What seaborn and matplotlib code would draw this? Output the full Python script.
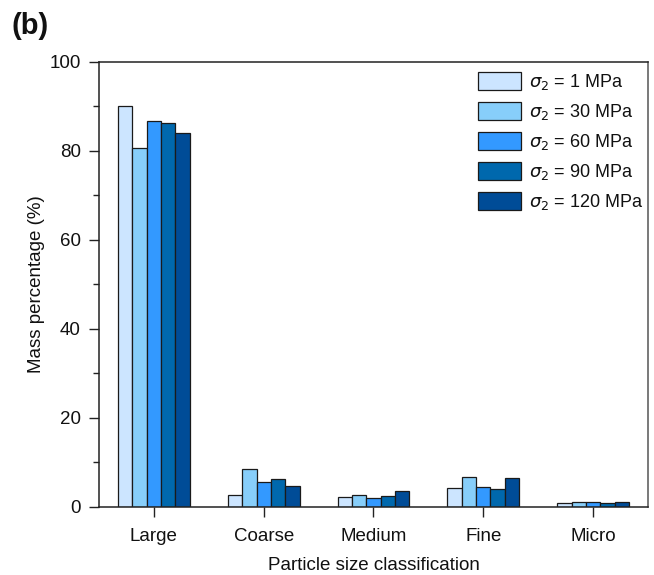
import matplotlib
matplotlib.use("Agg")
import matplotlib.pyplot as plt
from matplotlib.ticker import AutoMinorLocator, MultipleLocator
import seaborn as sns
import pandas as pd

categories = ["Large", "Coarse", "Medium", "Fine", "Micro"]
series = [r"$\sigma_2$ = 1 MPa", r"$\sigma_2$ = 30 MPa", r"$\sigma_2$ = 60 MPa",
          r"$\sigma_2$ = 90 MPa", r"$\sigma_2$ = 120 MPa"]
s1 = [90.1, 2.7, 2.2, 4.2, 0.9]
s30 = [80.6, 8.6, 2.8, 6.8, 1.1]
s60 = [86.7, 5.7, 2.0, 4.6, 1.1]
s90 = [86.3, 6.3, 2.4, 4.0, 1.0]
s120 = [84.0, 4.7, 3.6, 6.4, 1.2]
colors = ["#CCE5FF", "#87CEFA", "#3399FF", "#0068AD", "#004C97"]

rows = []
for name, vals in zip(series, [s1, s30, s60, s90, s120]):
    for cat, v in zip(categories, vals):
        rows.append({"cat": cat, "val": v, "series": name})
df = pd.DataFrame(rows)

sns.set_style("ticks")
plt.rcParams["font.family"] = ["Liberation Sans", "DejaVu Sans"]
plt.rcParams["mathtext.fontset"] = "dejavusans"
plt.rcParams["text.color"] = "#111111"
plt.rcParams["axes.labelcolor"] = "#111111"

fig = plt.figure(figsize=(6.54, 5.75), dpi=100)
ax = fig.add_axes([0.1514, 0.1183, 0.8394, 0.7739])

sns.barplot(data=df, x="cat", y="val", hue="series", order=categories,
            hue_order=series, palette=colors, saturation=1, width=0.655,
            edgecolor="#1a1a1a", linewidth=0.9, ax=ax, legend=True)

ax.set_xlim(-0.5, 4.5)
ax.set_ylim(0, 100)
ax.yaxis.set_major_locator(MultipleLocator(20))
ax.yaxis.set_minor_locator(AutoMinorLocator(2))
ax.tick_params(axis="both", which="major", direction="out", length=7,
               width=1, labelsize=13.5, color="#222222", labelcolor="#111111")
ax.tick_params(axis="x", which="major", pad=8)
ax.tick_params(axis="y", which="major", pad=6)
ax.tick_params(axis="y", which="minor", direction="out", length=4, width=1,
               color="#222222")
for sp in ax.spines.values():
    sp.set_visible(True)
    sp.set_linewidth(1.1)
    sp.set_color("#222222")
ax.spines["right"].set_color("#555555")

ax.set_xlabel("Particle size classification", fontsize=13.5, labelpad=9)
ax.set_ylabel("Mass percentage (%)", fontsize=13.5, labelpad=3)

leg = ax.legend(loc="upper right", frameon=False, fontsize=13,
                handlelength=2.35, handleheight=1.15, labelspacing=0.55,
                handletextpad=0.45, borderaxespad=0.0,
                bbox_to_anchor=(1.005, 0.993))

fig.text(0.018, 0.955, "(b)", fontsize=21, fontweight="bold", va="center")

fig.savefig("out.png", dpi=100)
